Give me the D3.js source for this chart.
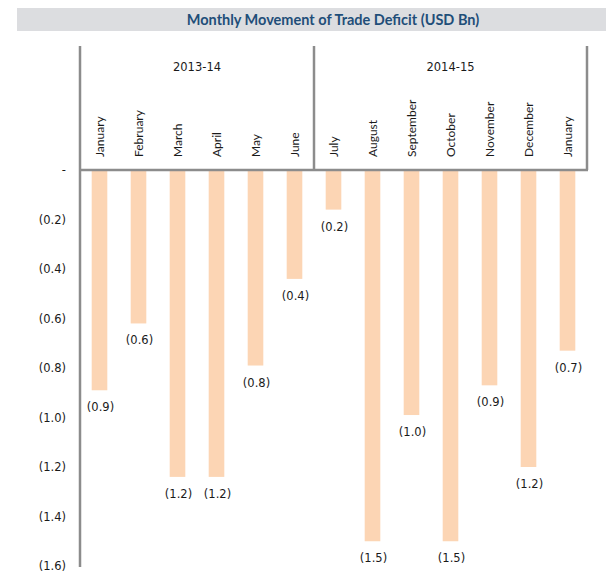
<!DOCTYPE html>
<html>
<head>
<meta charset="utf-8">
<script src="https://cdn.jsdelivr.net/npm/d3@7"></script>
<style>
  body { margin: 0; background: #fff; }
  #container { width: 606px; height: 573px; }
  text { font-family: "DejaVu Sans", Verdana, sans-serif; fill: #1a1a1a; }
</style>
</head>
<body>
<div id="container"></div>
<script>
const width = 606, height = 573;

// data (USD Bn)
const months = ["January","February","March","April","May","June",
                "July","August","September","October","November","December","January"];
const fiscalYears = ["2013-14", "2014-15"];
const yearSpan = [6, 7]; // months in each fiscal-year group
const deficit = [-0.89, -0.62, -1.24, -1.24, -0.79, -0.44,
                 -0.16, -1.50, -0.99, -1.50, -0.87, -1.20, -0.73];
const yTicks = [0, -0.2, -0.4, -0.6, -0.8, -1.0, -1.2, -1.4, -1.6];

const svg = d3.create("svg")
    .attr("width", width)
    .attr("height", height)
    .attr("viewBox", `0 0 ${width} ${height}`);

// title band
svg.append("rect").attr("x", 17).attr("y", 8).attr("width", width - 17).attr("height", 23)
    .attr("fill", "#dcdde0");
svg.append("text").attr("x", 333).attr("y", 24.5)
    .attr("text-anchor", "middle")
    .style("font-family", "Lato, 'Open Sans', sans-serif")
    .style("font-weight", "bold").style("font-size", "14.5px")
    .style("fill", "#1f4e79")
    .text("Monthly Movement of Trade Deficit (USD Bn)");

const x = d3.scaleBand().domain(d3.range(months.length)).range([80, 587])
    .paddingInner(0.6).paddingOuter(0.3);
const y = d3.scaleLinear().domain([0, -1.6]).range([170, 566]);

const fmt = v => v === 0 ? "-" : "(" + d3.format(".1f")(Math.abs(v)) + ")";

// bars
svg.append("g").selectAll("rect")
    .data(deficit)
    .join("rect")
    .attr("x", (d, i) => x(i))
    .attr("y", y(0))
    .attr("width", x.bandwidth())
    .attr("height", d => y(d) - y(0))
    .attr("fill", "#fcd5b4");

// value labels
svg.append("g").selectAll("text")
    .data(deficit)
    .join("text")
    .attr("x", (d, i) => x(i) + x.bandwidth() / 2 + 1)
    .attr("y", d => y(d) + 21)
    .attr("text-anchor", "middle")
    .style("font-size", "11.5px")
    .text(d => fmt(d));

// y tick labels
svg.append("g").selectAll("text")
    .data(yTicks)
    .join("text")
    .attr("x", 66)
    .attr("y", d => y(d) + 4)
    .attr("text-anchor", "end")
    .style("font-size", "11.5px")
    .text(d => fmt(d));

// month labels, rotated
svg.append("g").selectAll("text")
    .data(months)
    .join("text")
    .attr("transform", (d, i) => `translate(${x(i) + x.bandwidth() / 2 + 4},157) rotate(-90)`)
    .attr("text-anchor", "start")
    .style("font-family", "Lato, 'Open Sans', sans-serif")
    .style("font-size", "12px")
    .text(d => d);

// fiscal-year groups
let start = 0;
const groups = fiscalYears.map((fy, k) => {
    const g = { label: fy, from: x.step() * start + x.range()[0], to: x.step() * (start + yearSpan[k]) + x.range()[0] };
    start += yearSpan[k];
    return g;
});
svg.append("g").selectAll("text")
    .data(groups)
    .join("text")
    .attr("x", d => (d.from + d.to) / 2)
    .attr("y", 71)
    .attr("text-anchor", "middle")
    .style("font-size", "11.5px")
    .text(d => d.label);

const lineCol = "#8c8c8c";
const lines = svg.append("g").attr("stroke", lineCol).attr("stroke-width", 2.5).attr("fill", "none");
// left axis
lines.append("line").attr("x1", 80).attr("x2", 80).attr("y1", 46).attr("y2", 567);
// zero line
lines.append("line").attr("x1", 80).attr("x2", 588).attr("y1", y(0)).attr("y2", y(0));
// group separators
lines.selectAll("line.sep")
    .data(groups.map(d => d.to))
    .join("line")
    .attr("class", "sep")
    .attr("x1", d => d).attr("x2", d => d)
    .attr("y1", 46).attr("y2", y(0));

document.getElementById("container").append(svg.node());
</script>
</body>
</html>
